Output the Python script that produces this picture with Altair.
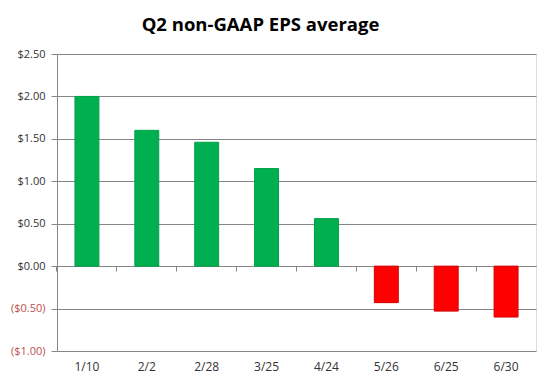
import altair as alt
import pandas as pd

dates = ["1/10", "2/2", "2/28", "3/25", "4/24", "5/26", "6/25", "6/30"]
eps = [2.00, 1.60, 1.46, 1.15, 0.56, -0.43, -0.53, -0.60]
y_ticks = [-1.0, -0.5, 0.0, 0.5, 1.0, 1.5, 2.0, 2.5]

df = pd.DataFrame({"date": dates, "eps": eps})

label_expr = ("datum.value < 0 ? '($' + format(-datum.value, '.2f') + ')' "
              ": '$' + format(datum.value, '.2f')")

chart = alt.Chart(df).mark_bar(strokeWidth=1).encode(
    x=alt.X("date:N", sort=dates, title=None,
            scale=alt.Scale(paddingInner=0.6, paddingOuter=0.3),
            axis=alt.Axis(offset=-85, domainColor="#868686", tickColor="#868686",
                          tickSize=5, bandPosition=-0.75, labelPadding=90,
                          labelAngle=0, labelFont="Open Sans", labelFontSize=12,
                          labelColor="#333333", grid=False)),
    y=alt.Y("eps:Q", title=None,
            scale=alt.Scale(domain=[-1.0, 2.5], nice=False, zero=False),
            axis=alt.Axis(values=y_ticks, labelExpr=label_expr,
                          labelColor=alt.condition("datum.value < 0",
                                                   alt.value("#c0504d"),
                                                   alt.value("#333333")),
                          labelFont="Open Sans", labelFontSize=11,
                          domainColor="#868686", tickColor="#868686", tickSize=6,
                          labelPadding=6, gridColor="#868686", gridWidth=1)),
    color=alt.condition("datum.eps < 0", alt.value("#ff0000"), alt.value("#00b050")),
    stroke=alt.condition("datum.eps < 0", alt.value("#d00000"), alt.value("#00a048")),
).properties(
    width=479, height=297,
    padding={"left": 49, "top": 46, "right": 6, "bottom": 25},
    autosize=alt.AutoSizeParams(type="none"),
    title=alt.TitleParams("Q2 non-GAAP EPS average", font="Open Sans",
                          fontSize=18.5, fontWeight="bold", color="#000000",
                          anchor="middle", dx=-36, offset=14),
).configure_view(stroke=None).configure(background="white")

chart.save("out.html", embed_options={"renderer": "svg", "actions": False})
